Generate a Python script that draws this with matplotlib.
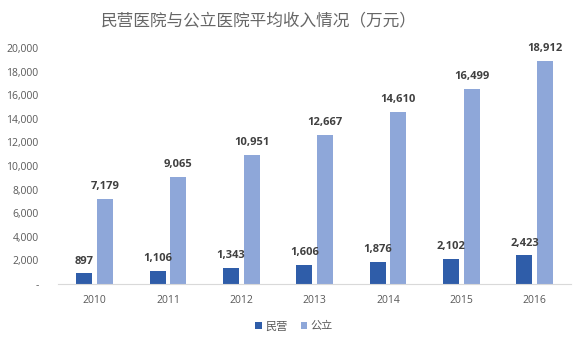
import numpy as np
import matplotlib.pyplot as plt

plt.rcParams['font.family'] = ['Open Sans', 'Noto Sans CJK SC', 'DejaVu Sans']

years = ['2010', '2011', '2012', '2013', '2014', '2015', '2016']
private = [897, 1106, 1343, 1606, 1876, 2102, 2423]
public = [7179, 9065, 10951, 12667, 14610, 16499, 18912]

c_private = '#2F5DA9'
c_public = '#8EA7D9'
gray = '#595959'

fig = plt.figure(figsize=(5.88, 3.46), dpi=100)
ax = fig.add_axes([0.0986, 0.179, 0.873, 0.682])

x = np.arange(len(years))
w = 0.22
off = 0.14
b1 = ax.bar(x - off, private, w, color=c_private, label='民营')
b2 = ax.bar(x + off, public, w, color=c_public, label='公立')

for bars, vals in ((b1, private), (b2, public)):
    for b, v in zip(bars, vals):
        ax.annotate(f'{v:,}', (b.get_x() + b.get_width() / 2, v),
                    xytext=(0, 5), textcoords='offset points',
                    ha='center', va='bottom', fontsize=8, fontweight='bold',
                    color='#404040')

ax.set_xlim(-0.5, len(years) - 0.5)
ax.set_ylim(0, 20000)
ax.set_yticks(np.arange(0, 20001, 2000))
ax.set_yticklabels(['-'] + [f'{v:,}' for v in range(2000, 20001, 2000)])
ax.set_xticks(x)
ax.set_xticklabels(years)
ax.tick_params(length=0, labelsize=7.5, colors=gray)
ax.tick_params(axis='x', pad=8)
ax.tick_params(axis='y', pad=14)
for s in ('top', 'right', 'left'):
    ax.spines[s].set_visible(False)
ax.spines['bottom'].set_color('#D9D9D9')

fig.text(0.44, 0.94, '民营医院与公立医院平均收入情况（万元）', ha='center', va='center',
         fontsize=12, color='#666666', family=['Noto Sans CJK SC', 'DejaVu Sans'])

leg = ax.legend(loc='center', bbox_to_anchor=(0.5, 0.057), bbox_transform=fig.transFigure,
                ncol=2, frameon=False, handlelength=0.6, handleheight=0.6,
                handletextpad=0.3, columnspacing=1.2, prop={'family': ['Noto Sans CJK SC'], 'size': 8})
for t in leg.get_texts():
    t.set_color(gray)

fig.savefig('out.png', dpi=100)
